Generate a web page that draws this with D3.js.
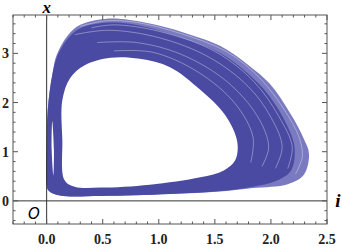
<!DOCTYPE html>
<head>
    <title>Phase plot</title>
    <style>
        body { margin: 0; background: white; }
        svg { display: block; }
    </style>
    <script src="https://d3js.org/d3.v7.min.js"></script>
</head>
<body>
    <svg width="342" height="251"></svg>
    <script>
        // points, [i, x]
        var outerLoop = [[0.00,0.33],[0.00,1.04],[0.01,1.85],[0.05,2.56],[0.09,2.97],[0.19,3.37],[0.30,3.58],
            [0.52,3.70],[0.74,3.68],[1.01,3.56],[1.28,3.38],[1.55,3.15],[1.80,2.76],[1.99,2.38],[2.18,1.75],
            [2.29,1.28],[2.34,0.95],[2.29,0.52],[2.15,0.34],[1.84,0.26],[1.55,0.19],[1.10,0.14],[0.48,0.10],
            [0.12,0.11],[0.02,0.20]];
        var coreLoop = [[0.00,0.33],[0.00,1.04],[0.01,1.85],[0.05,2.56],[0.10,2.97],[0.20,3.33],[0.31,3.52],
            [0.52,3.62],[0.74,3.60],[1.01,3.46],[1.28,3.26],[1.55,3.00],[1.80,2.58],[1.97,2.18],[2.13,1.60],
            [2.21,1.10],[2.18,0.62],[2.04,0.40],[1.84,0.29],[1.55,0.20],[1.10,0.14],[0.48,0.10],[0.12,0.11],
            [0.02,0.20]];
        var innerLoop = [[0.16,0.42],[0.14,1.24],[0.14,2.05],[0.21,2.50],[0.34,2.76],[0.57,2.91],[0.83,2.89],
            [1.10,2.72],[1.37,2.26],[1.59,1.75],[1.70,1.20],[1.68,0.82],[1.58,0.62],[1.37,0.48],[0.92,0.33],
            [0.48,0.27],[0.25,0.29]];
        var slitLoop = [[0.05,1.62],[0.065,1.04],[0.06,0.52],[0.045,1.04]];
        var gapLines = [
            [[0.30,3.55],[0.52,3.66],[0.80,3.63],[1.20,3.40],[1.60,3.04],[1.90,2.50],[2.12,1.85],[2.25,1.30],[2.28,0.90],[2.22,0.55]],
            [[0.40,3.52],[0.60,3.58],[1.00,3.45],[1.50,3.04],[1.85,2.42],[2.07,1.72],[2.19,1.10],[2.15,0.66]],
            [[0.25,3.38],[0.55,3.47],[1.00,3.32],[1.45,2.92],[1.80,2.32],[2.00,1.70],[2.10,1.10],[2.04,0.66]],
            [[0.45,3.22],[0.80,3.22],[1.20,2.98],[1.60,2.44],[1.88,1.72],[1.98,1.10],[1.92,0.70]],
            [[0.60,3.05],[0.95,3.02],[1.35,2.62],[1.68,1.98],[1.84,1.30],[1.82,0.78]]
        ];

        var iTicks = [0, 0.5, 1, 1.5, 2, 2.5];
        var xTicks = [0, 1, 2, 3];
        var iMinor = d3.range(-3, 26).map(d => d / 10);
        var xMinor = d3.range(-2, 19).map(d => d / 5);

        var svg = d3.select('svg');
        var fL = 13, fR = 327, fT = 15, fB = 224;

        var sx = d3.scaleLinear().domain([-0.3, 2.5]).range([fL, fR]);
        var sy = d3.scaleLinear().domain([-0.47, 3.78]).range([fB, fT]);

        var loop = d3.line().x(d => sx(d[0])).y(d => sy(d[1])).curve(d3.curveCatmullRomClosed);
        var open = d3.line().x(d => sx(d[0])).y(d => sy(d[1])).curve(d3.curveCatmullRom);

        var plot = svg.append("g");
        plot.append("path").attr("d", loop(outerLoop)).attr("fill", "#7a7ac0");
        plot.append("path").attr("d", loop(coreLoop)).attr("fill", "#4a4aa3");
        gapLines.forEach(function (g) {
            plot.append("path").attr("d", open(g))
                .attr("fill", "none")
                .attr("stroke", "white")
                .attr("stroke-opacity", 0.5)
                .attr("stroke-width", 0.7);
        });
        plot.append("path").attr("d", loop(innerLoop)).attr("fill", "white");
        plot.append("path").attr("d", loop(slitLoop)).attr("fill", "white");

        // axes through the origin
        svg.append("line").attr("x1", sx(0)).attr("x2", sx(0)).attr("y1", fT).attr("y2", fB)
            .attr("stroke", "#333").attr("stroke-width", 1);
        svg.append("line").attr("x1", fL).attr("x2", fR).attr("y1", sy(0)).attr("y2", sy(0))
            .attr("stroke", "#333").attr("stroke-width", 1);

        // frame and ticks
        svg.append("rect").attr("x", fL).attr("y", fT).attr("width", fR - fL).attr("height", fB - fT)
            .attr("fill", "none").attr("stroke", "#555").attr("stroke-width", 1);

        var tk = svg.append("g").attr("stroke", "#555").attr("stroke-width", 1);
        iMinor.forEach(function (v) {
            var major = iTicks.some(t => Math.abs(t - v) < 1e-6);
            var len = major ? 5 : 2.5;
            tk.append("line").attr("x1", sx(v)).attr("x2", sx(v)).attr("y1", fB).attr("y2", fB - len);
            tk.append("line").attr("x1", sx(v)).attr("x2", sx(v)).attr("y1", fT).attr("y2", fT + len);
        });
        xMinor.forEach(function (v) {
            var major = xTicks.some(t => Math.abs(t - v) < 1e-6);
            var len = major ? 5 : 2.5;
            tk.append("line").attr("y1", sy(v)).attr("y2", sy(v)).attr("x1", fL).attr("x2", fL + len);
            tk.append("line").attr("y1", sy(v)).attr("y2", sy(v)).attr("x1", fR).attr("x2", fR - len);
        });

        var lab = svg.append("g").attr("font-family", "Liberation Serif, serif")
            .attr("font-weight", "bold").attr("font-size", 14).attr("fill", "#222");
        lab.selectAll(".il").data(iTicks).enter().append("text")
            .attr("x", d => sx(d)).attr("y", 244).attr("text-anchor", "middle")
            .text(d => d3.format(".1f")(d));
        lab.selectAll(".xl").data(xTicks).enter().append("text")
            .attr("x", 9).attr("y", d => sy(d) + 5).attr("text-anchor", "end")
            .text(d => d);

        svg.append("text").attr("x", sx(0)).attr("y", 13).attr("text-anchor", "middle")
            .attr("font-family", "Liberation Serif, serif").attr("font-style", "italic")
            .attr("font-weight", "bold").attr("font-size", 17).text("x");
        svg.append("text").attr("x", 338).attr("y", 207).attr("text-anchor", "middle")
            .attr("font-family", "Liberation Serif, serif").attr("font-style", "italic")
            .attr("font-weight", "bold").attr("font-size", 19).text("i");
        svg.append("text").attr("x", 34).attr("y", 219).attr("text-anchor", "middle")
            .attr("font-family", "DejaVu Sans, sans-serif").attr("font-style", "italic")
            .attr("font-size", 15).text("O");
    </script>
</body>
</html>
